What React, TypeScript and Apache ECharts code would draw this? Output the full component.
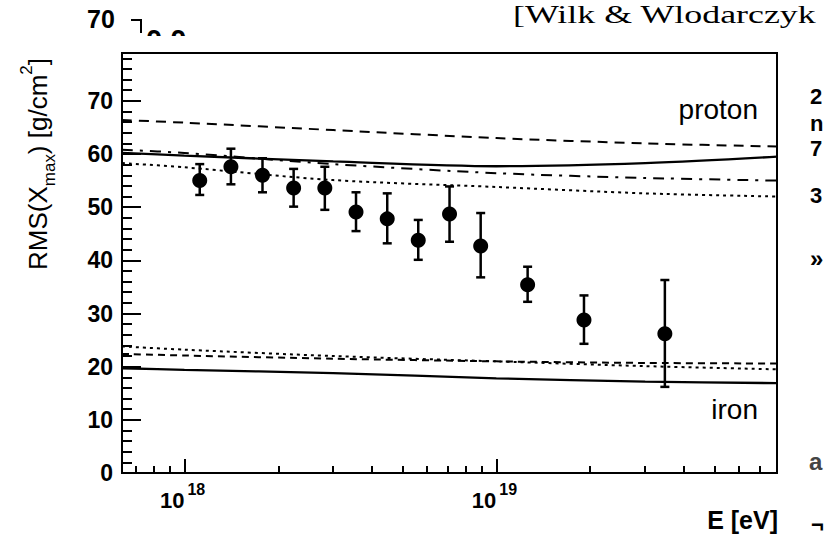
import React, { useEffect, useRef } from "react";
import * as echarts from "echarts";

const FONT = "'Liberation Sans', Arial, Helvetica, sans-serif";
const SERIF = "'Liberation Serif', 'Times New Roman', serif";

// Measured data points (energy in eV, RMS(Xmax) in g/cm^2)
const pointEnergies = [1.12e18, 1.41e18, 1.78e18, 2.24e18, 2.82e18, 3.55e18, 4.47e18, 5.62e18, 7.08e18, 8.91e18, 1.26e19, 1.91e19, 3.47e19];
const rmsValues = [55.0, 57.6, 56.0, 53.6, 53.6, 49.1, 47.8, 43.8, 48.7, 42.7, 35.4, 28.8, 26.2];
const errUpper = [58.1, 61.0, 59.2, 57.2, 57.6, 52.8, 52.6, 47.6, 53.9, 48.9, 38.8, 33.4, 36.3];
const errLower = [52.3, 54.3, 52.8, 50.1, 49.5, 45.5, 43.2, 40.1, 43.5, 36.8, 32.2, 24.3, 16.2];

// Model curves sampled at these energies
const curveEnergies = [6.31e17, 1e18, 3e18, 1e19, 3e19, 7.94e19];
const protonDashed = [66.4, 65.9, 64.5, 63.0, 62.0, 61.4];
const protonSolid = [60.2, 59.7, 58.6, 57.7, 58.3, 59.5];
const protonDashDot = [60.8, 60.2, 58.1, 56.4, 55.5, 55.0];
const protonDotted = [58.3, 57.5, 55.1, 53.8, 52.6, 52.0];
const ironDotted = [23.8, 23.2, 22.0, 21.0, 20.1, 19.5];
const ironDashed = [22.4, 22.1, 21.5, 21.0, 20.7, 20.6];
const ironSolid = [19.7, 19.4, 18.8, 17.8, 17.2, 16.9];

// Axes
const xRange = [6.31e17, 7.94e19];
const xMajorTicks = [1e18, 1e19];
const xMinorTicks = [7e17, 8e17, 9e17, 2e18, 3e18, 4e18, 5e18, 6e18, 7e18, 8e18, 9e18, 2e19, 3e19, 4e19, 5e19, 6e19, 7e19];
const yRange = [0, 79];
const yMajorTicks = [0, 10, 20, 30, 40, 50, 60, 70];
const yMinorTicks = [2, 4, 6, 8, 12, 14, 16, 18, 22, 24, 26, 28, 32, 34, 36, 38, 42, 44, 46, 48, 52, 54, 56, 58, 62, 64, 66, 68, 72, 74, 76, 78];

const lg = (v: number) => Math.log10(v);

const curve = (vals: number[]) => curveEnergies.map((e, i) => [lg(e), vals[i]]);

const lineSeries = (name: string, vals: number[], type: any, width = 2) => ({
  name,
  type: "line",
  data: curve(vals),
  smooth: 0.3,
  showSymbol: false,
  symbol: "none",
  silent: true,
  lineStyle: { color: "#000", width, type },
  z: 2,
});

const frag = (text: string, x: number, y: number, size: number, fill = "#000") => ({
  type: "text",
  x,
  y,
  style: { text, fontSize: size, lineHeight: 18, fontWeight: "bold", fontFamily: FONT, fill, align: "left", verticalAlign: "middle" },
});

export default function App() {
  const ref = useRef<HTMLDivElement>(null);
  useEffect(() => {
    if (!ref.current) return;
    const chart = echarts.init(ref.current, null, { renderer: "svg" });
    const tickStyle = { color: "#000", width: 2 };
    const option: any = {
      animation: false,
      backgroundColor: "#fff",
      grid: {
        left: 122, right: 53, top: 53, bottom: 70,
        show: true, borderColor: "#000", borderWidth: 2,
        containLabel: false, outerBoundsMode: "none",
      },
      xAxis: [
        {
          // major ticks + mantissa "10"
          type: "value", min: lg(xRange[0]), max: lg(xRange[1]),
          axisLine: { show: true, onZero: false, lineStyle: tickStyle },
          axisTick: { show: true, inside: true, length: 14, customValues: xMajorTicks.map(lg), lineStyle: tickStyle },
          axisLabel: {
            customValues: xMajorTicks.map(lg),
            margin: 16,
            align: "right",
            lineHeight: 22,
            padding: [0, 0, 0, 0],
            formatter: () => "10",
            fontSize: 22, fontWeight: "bold", fontFamily: FONT, color: "#000",
          },
          splitLine: { show: false },
        },
        {
          // minor ticks + exponent superscript
          type: "value", min: lg(xRange[0]), max: lg(xRange[1]), position: "bottom",
          axisLine: { show: false },
          axisTick: { show: true, inside: true, length: 7, customValues: xMinorTicks.map(lg), lineStyle: tickStyle },
          axisLabel: {
            customValues: xMajorTicks.map(lg),
            margin: 8,
            align: "left",
            lineHeight: 16,
            padding: [0, 0, 0, 3],
            formatter: (v: number) => String(Math.round(v)),
            fontSize: 16, fontWeight: "bold", fontFamily: FONT, color: "#000",
          },
          splitLine: { show: false },
        },
      ],
      yAxis: [
        {
          type: "value", min: yRange[0], max: yRange[1],
          axisLine: { show: true, onZero: false, lineStyle: tickStyle },
          axisTick: { show: true, inside: true, length: 19, customValues: yMajorTicks, lineStyle: tickStyle },
          axisLabel: { customValues: yMajorTicks, margin: 9, fontSize: 23, fontWeight: "bold", fontFamily: FONT, color: "#000" },
          splitLine: { show: false },
        },
        {
          type: "value", min: yRange[0], max: yRange[1], position: "left",
          axisLine: { show: false },
          axisTick: { show: true, inside: true, length: 10, customValues: yMinorTicks, lineStyle: tickStyle },
          axisLabel: { show: false },
          splitLine: { show: false },
        },
      ],
      series: [
        lineSeries("proton-dashed", protonDashed, [10, 7]),
        lineSeries("proton-solid", protonSolid, "solid", 2.3),
        lineSeries("proton-dashdot", protonDashDot, [11, 7, 3, 7]),
        lineSeries("proton-dotted", protonDotted, [3, 4]),
        lineSeries("iron-dotted", ironDotted, [3, 4]),
        lineSeries("iron-dashed", ironDashed, [7, 5]),
        lineSeries("iron-solid", ironSolid, "solid", 2.3),
        {
          name: "errors",
          type: "custom",
          silent: true,
          z: 3,
          data: pointEnergies.map((e, i) => [lg(e), errLower[i], errUpper[i]]),
          encode: { x: 0, y: [1, 2] },
          renderItem: (params: any, api: any) => {
            const x = api.value(0);
            const lo = api.coord([x, api.value(1)]);
            const hi = api.coord([x, api.value(2)]);
            const w = 4.5;
            const st = { stroke: "#000", lineWidth: 2.5 };
            return {
              type: "group",
              children: [
                { type: "line", shape: { x1: lo[0], y1: lo[1], x2: hi[0], y2: hi[1] }, style: st },
                { type: "line", shape: { x1: hi[0] - w, y1: hi[1], x2: hi[0] + w, y2: hi[1] }, style: st },
                { type: "line", shape: { x1: lo[0] - w, y1: lo[1], x2: lo[0] + w, y2: lo[1] }, style: st },
              ],
            };
          },
        },
        {
          name: "data",
          type: "scatter",
          symbol: "circle",
          symbolSize: 15,
          itemStyle: { color: "#000", opacity: 1 },
          z: 4,
          data: pointEnergies.map((e, i) => [lg(e), rmsValues[i]]),
        },
      ],
      graphic: [
        { type: "text", x: 758, y: 109, style: { text: "proton", fontSize: 28, fontFamily: FONT, fill: "#000", align: "right", verticalAlign: "middle" } },
        { type: "text", x: 758, y: 409, style: { text: "iron", fontSize: 28, fontFamily: FONT, fill: "#000", align: "right", verticalAlign: "middle" } },
        { type: "text", x: 778, y: 520, style: { text: "E [eV]", fontSize: 25, fontWeight: "bold", fontFamily: FONT, fill: "#000", align: "right", verticalAlign: "middle" } },
        {
          type: "text", x: 38, y: 164, rotation: Math.PI / 2,
          style: {
            text: "{a|RMS(X}{sub|max}{a|) [g/cm}{sup|2}{a|]}",
            align: "center", verticalAlign: "middle",
            rich: {
              a: { fontSize: 26, fontFamily: FONT, fill: "#000", lineHeight: 40, verticalAlign: "middle" },
              sub: { fontSize: 17, fontFamily: FONT, fill: "#000", lineHeight: 24, verticalAlign: "bottom" },
              sup: { fontSize: 17, fontFamily: FONT, fill: "#000", lineHeight: 16, verticalAlign: "top" },
            },
          },
        },
        { type: "text", x: 513, y: 14, scaleX: 1.38, style: { text: "[Wilk & Wlodarczyk", fontSize: 26, lineHeight: 24, fontFamily: SERIF, fill: "#000", align: "left", verticalAlign: "middle" } },
        { type: "text", x: 87, y: 19, style: { text: "70", fontSize: 25, lineHeight: 20, fontWeight: "bold", fontFamily: FONT, fill: "#000", align: "left", verticalAlign: "middle" } },
        { type: "polyline", shape: { points: [[131, 20], [141, 20], [141, 33]] }, style: { stroke: "#000", lineWidth: 2, fill: null } },
        { type: "text", x: 146, y: 40, style: { text: "0.0", fontSize: 29, fontWeight: "bold", fontFamily: FONT, fill: "#000", align: "left", verticalAlign: "middle" } },
        { type: "rect", shape: { x: 140, y: 36, width: 70, height: 15 }, style: { fill: "#fff" }, z: 100 },
        frag("2", 810, 96, 22),
        frag("n", 810, 123, 22),
        frag("7", 810, 148, 22),
        frag("3", 810, 195, 22),
        frag("»", 810, 258, 24),
        frag("a", 809, 461, 24, "#444"),
        frag("¬", 811, 524, 22),
      ],
    };
    chart.setOption(option);
    return () => chart.dispose();
  }, []);
  return <div ref={ref} style={{ position: "absolute", left: 0, top: 0, width: 830, height: 543 }} />;
}
